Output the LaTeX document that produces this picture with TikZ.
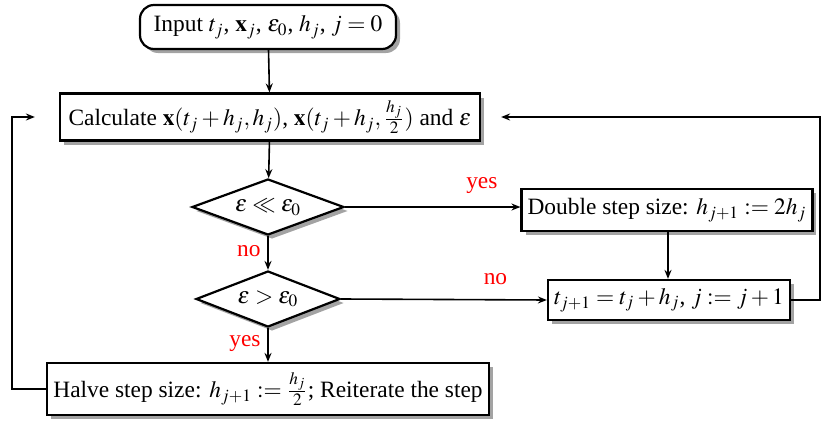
\documentclass[tikz,border=0pt]{standalone}
\usepackage{mathptmx}
\usepackage{fontspec}
\setmainfont{Liberation Serif}
\usetikzlibrary{shapes.geometric,shadows,arrows.meta,calc}
\begin{document}
\begin{tikzpicture}[x=0.5pt,y=-0.5pt,
  every node/.style={font=\fontsize{11.7}{14}\selectfont},
  shad/.style={drop shadow={opacity=0.6,fill=black!60,shadow xshift=2pt,shadow yshift=-2pt}},
  box/.style={draw,line width=1.1pt,fill=white,inner sep=3pt,shad},
  decision/.style={draw,line width=1.1pt,fill=white,diamond,aspect=2.7,inner sep=0.5pt,
    minimum width=76pt,minimum height=28pt,shad},
  conn/.style={line width=0.8pt,-{Stealth[length=4.5pt,width=3.5pt,inset=1.5pt]}},
  loop/.style={line width=1.1pt,-{Stealth[length=4.5pt,width=3.5pt,inset=1.5pt]}},
  lab/.style={text=red}]
\useasboundingbox (0,0) rectangle (821,423);
\node[box,rounded corners=7pt,minimum width=128pt,minimum height=22pt] (in) at (268,27) {Input $t_j$, $\mathbf{x}_j$, $\varepsilon_0$, $h_j$, $j=0$};
\node[box,minimum width=210pt,minimum height=23.5pt] (calc) at (270,117) {Calculate $\mathbf{x}(t_j+h_j,h_j)$, $\mathbf{x}(t_j+h_j,\frac{h_j}{2})$ and $\varepsilon$};
\node[decision] (d1) at (268,207) {$\varepsilon\ll\varepsilon_0$};
\node[decision,minimum width=72pt] (d2) at (268,299) {$\varepsilon>\varepsilon_0$};
\node[box,minimum width=144pt,minimum height=21pt] (dbl) at (667,210) {Double step size: $h_{j+1}:=2h_j$};
\node[box,minimum width=121pt,minimum height=20pt] (tb) at (669,300) {$t_{j+1}=t_j+h_j$, $j:=j+1$};
\node[box,minimum width=217pt,minimum height=26pt] (hv) at (268,389) {Halve step size: $h_{j+1}:=\frac{h_j}{2}$; Reiterate the step};
\coordinate (rc) at (820,300);
\coordinate (lc) at (12,389);
\draw[conn] (in) -- (calc);
\draw[conn] (calc) -- (d1);
\draw[conn] (d1) -- node[lab,left,pos=0.45] {no} (d2);
\draw[conn] (d2) -- node[lab,left,pos=0.45] {yes} (hv);
\draw[conn] (d1.east) -- node[lab,above,pos=0.78,yshift=3pt] {yes} (dbl.west |- d1.east);
\draw[conn] (d2.east) -- node[lab,above,pos=0.75,yshift=4pt] {no} (tb.west);
\draw[conn] (dbl.south -| 668,0) -- (tb.north -| 668,0);
\draw[loop,shorten >=10pt] (tb.east) -- (rc) |- (calc.east);
\draw[loop,shorten >=12pt] (hv.west) -- (lc) |- (calc.west);
\end{tikzpicture}
\end{document}
